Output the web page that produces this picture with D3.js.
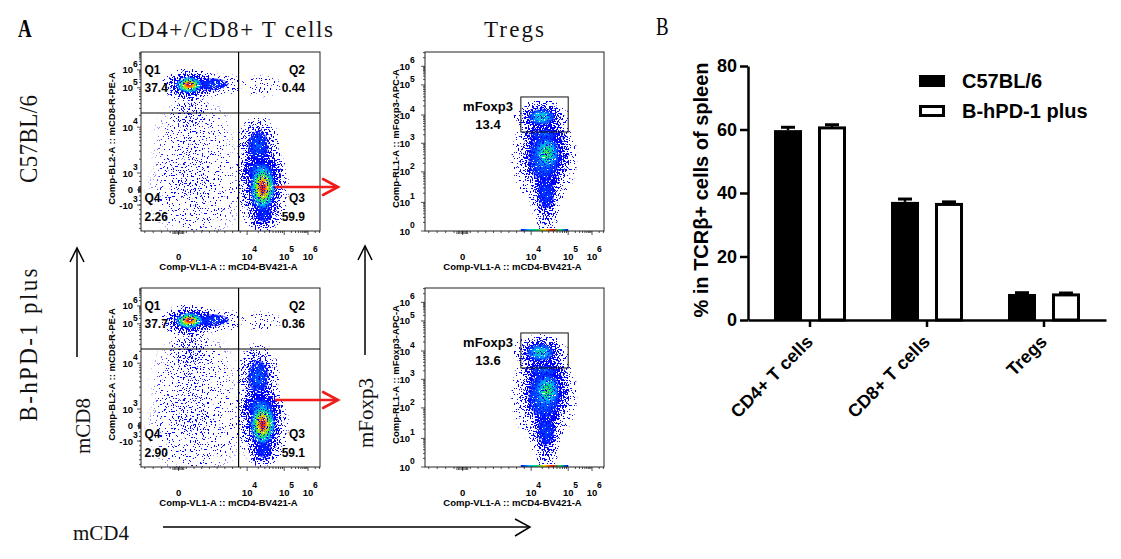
<!DOCTYPE html>
<html>
<head>
<meta charset="utf-8">
<script src="https://cdn.jsdelivr.net/npm/d3@7"></script>
<style>
  body { margin: 0; background: #fff; }
  svg { display: block; }
  .sans { font-family: 'Liberation Sans', Arial, sans-serif; font-weight: bold; }
  .serif { font-family: 'Liberation Serif', 'Times New Roman', serif; }
</style>
</head>
<body>
<div id="figure"></div>
<script>
// ---------- panel B: bar chart ----------
const categories = ['CD4+ T cells', 'CD8+ T cells', 'Tregs'];
const groups = ['C57BL/6', 'B-hPD-1 plus'];
const meanC57 = [59.8, 37.2, 8.2];
const meanHPD = [60.5, 36.4, 7.9];
const semC57 = [0.9, 0.9, 0.4];
const semHPD = [1.0, 0.8, 0.6];
const barTicks = [0, 20, 40, 60, 80];

// ---------- panel A: flow plots ----------
const strains = ['C57BL/6', 'B-hPD-1 plus'];
const quadNames = ['Q1', 'Q2', 'Q3', 'Q4'];
const quadPct = [['37.4', '0.44', '59.9', '2.26'], ['37.7', '0.36', '59.1', '2.90']];
const foxp3Pct = ['13.4', '13.6'];
const quadCut = [3.5, 4.36];             // mCD4 / mCD8 cut (axis units)
const foxp3Gate = [3.4, 5.0, 3.4, 4.6];  // x0, x1, y0, y1
const pileUp = [3.4, 5.0];               // events stacked on the Foxp3 axis floor

// tick labels [axis unit, base, exponent]
const cd4Ticks = [[0, '0', ''], [4, '10', '4'], [5, '10', '5'], [6, '10', '6']];
const cd8Ticks = [[-3, '-10', '3'], [0, '0', ''], [3, '10', '3'], [4, '10', '4'], [5, '10', '5'], [6, '10', '6']];
const foxp3Ticks = [[0, '10', '0'], [1, '10', '1'], [2, '10', '2'], [3, '10', '3'], [4, '10', '4'], [5, '10', '5'], [6, '10', '6']];

// populations [x, y, spreadX, spreadY, peak density, halo density]
const cdPopsC57 = [
  [0.6, 5.16, 0.8, 0.36, 1.0, 1.0],
  [2.0, 5.2, 0.95, 0.3, 0.12, 0.4],
  [0.65, 4.35, 0.55, 0.3, 0.0, 0.28],
  [0.9, 3.6, 1.3, 0.6, 0.0, 0.12],
  [1.0, -0.5, 1.5, 3.8, 0.0, 0.12],
  [0.8, 0.3, 0.6, 1.6, 0.0, 0.16],
  [4.4, 5.1, 0.3, 0.25, 0.0, 0.16],
  [4.42, 0.4, 0.36, 3.0, 1.0, 1.0],
  [4.36, 3.05, 0.36, 0.3, 0.3, 0.85],
  [4.3, 3.6, 0.3, 0.35, 0.2, 0.75],
  [4.45, -4.8, 0.22, 1.6, 0.1, 0.6]
];
const cdPopsHPD = [
  [0.62, 5.18, 0.85, 0.36, 1.0, 1.0],
  [2.0, 5.2, 1.0, 0.3, 0.12, 0.4],
  [0.65, 4.3, 0.6, 0.35, 0.0, 0.32],
  [0.9, 3.6, 1.35, 0.6, 0.0, 0.14],
  [1.0, -0.5, 1.5, 3.8, 0.0, 0.14],
  [0.8, 0.3, 0.6, 1.6, 0.0, 0.18],
  [4.4, 5.15, 0.3, 0.25, 0.0, 0.14],
  [4.42, 0.3, 0.36, 3.0, 1.0, 1.0],
  [4.36, 3.05, 0.36, 0.3, 0.3, 0.85],
  [4.3, 3.7, 0.3, 0.4, 0.22, 0.75],
  [4.45, -4.8, 0.22, 1.6, 0.1, 0.6]
];
const tregPopsC57 = [
  [4.28, 3.93, 0.42, 0.3, 0.48, 1.0],
  [4.35, 3.3, 0.38, 0.2, 0.25, 0.7],
  [4.42, 2.65, 0.36, 0.62, 0.62, 1.0],
  [4.35, 2.5, 0.5, 0.85, 0.3, 0.65],
  [4.4, 1.3, 0.24, 0.55, 0.15, 0.7],
  [4.42, 0.55, 0.16, 0.4, 0.0, 0.35]
];
const tregPopsHPD = [
  [4.25, 3.95, 0.44, 0.32, 0.5, 1.0],
  [4.35, 3.3, 0.38, 0.2, 0.27, 0.7],
  [4.43, 2.6, 0.36, 0.62, 0.62, 1.0],
  [4.35, 2.45, 0.5, 0.9, 0.3, 0.65],
  [4.4, 1.25, 0.24, 0.55, 0.15, 0.7],
  [4.42, 0.55, 0.16, 0.4, 0.0, 0.35]
];

// ---------- setup ----------
const svg = d3.select('#figure').append('svg')
    .attr('width', 1121)
    .attr('height', 559);
svg.append('rect').attr('width', 1121).attr('height', 559).attr('fill', '#fff');
const defs = svg.append('defs');

const jet = d3.scaleLinear()
    .domain([0, 0.18, 0.35, 0.55, 0.72, 0.86, 1])
    .range(['#0000ff', '#0050ff', '#00b4ff', '#00e678', '#b4f000', '#ffa000', '#ff1000']);

// speckle filters: turn smooth density into scattered dots.
// two noise fields of unrelated frequency are mixed so no lattice shows through
function noise(f, seed) {
    f.append('feTurbulence').attr('type', 'fractalNoise')
        .attr('baseFrequency', 0.57).attr('numOctaves', 1).attr('seed', seed).attr('result', 'na');
    f.append('feTurbulence').attr('type', 'fractalNoise')
        .attr('baseFrequency', '0.83 0.77').attr('numOctaves', 1).attr('seed', seed + 5).attr('result', 'nb');
    f.append('feComposite').attr('in', 'na').attr('in2', 'nb')
        .attr('operator', 'arithmetic').attr('k2', 0.5).attr('k3', 0.5).attr('result', 'n0');
    const ct = f.append('feComponentTransfer').attr('in', 'n0').attr('result', 'n1');
    ct.append('feFuncR').attr('type', 'linear').attr('slope', 4.4).attr('intercept', -1.7);
    f.append('feColorMatrix').attr('in', 'n1').attr('type', 'matrix')
        .attr('values', '0 0 0 0 0  0 0 0 0 0  0 0 0 0 1  1 0 0 0 0').attr('result', 'mask');
}
function plotFilter(id) {
    return defs.append('filter').attr('id', id)
        .attr('filterUnits', 'userSpaceOnUse').attr('x', -20).attr('y', -20)
        .attr('width', 230).attr('height', 230)
        .attr('color-interpolation-filters', 'sRGB');
}
// dot coverage grows with local density: on where noise > 1 - density
const fHalo = plotFilter('speckle');
noise(fHalo, 7);
fHalo.append('feComposite').attr('in', 'SourceGraphic').attr('in2', 'mask')
    .attr('operator', 'arithmetic').attr('k1', 0).attr('k2', 20).attr('k3', 20).attr('k4', -20);

const fCore = plotFilter('coreTex');
noise(fCore, 3);
const ctm = fCore.append('feComponentTransfer').attr('in', 'mask').attr('result', 'mask2');
ctm.append('feFuncA').attr('type', 'linear').attr('slope', 4).attr('intercept', -0.5);
fCore.append('feGaussianBlur').attr('in', 'SourceGraphic').attr('stdDeviation', 0.6).attr('result', 'soft');
fCore.append('feComposite').attr('in', 'soft').attr('in2', 'mask2').attr('operator', 'in');

const haloGrad = defs.append('radialGradient').attr('id', 'haloGrad');
[[0, 1], [0.5, 0.6], [1, 0]].forEach(([o, a]) =>
    haloGrad.append('stop').attr('offset', o).attr('stop-color', '#0000ff').attr('stop-opacity', a));

const pileGrad = defs.append('linearGradient').attr('id', 'pileGrad');
['#0000ff', '#00b4ff', '#00e678', '#ffd000', '#ff1000', '#00e678', '#0000ff'].forEach((c, i, a) =>
    pileGrad.append('stop').attr('offset', i / (a.length - 1)).attr('stop-color', c));

// ---------- flow plot ----------
const plotW = 179, plotH = 179;
const unitX = d3.scaleLinear().domain([-2, 0, 4, 5, 6, 6.5]).range([0, 0.21, 0.593, 0.80, 0.933, 1]);
const cdY = { domain: [-8, -3, 0, 3, 4, 5, 6, 7], range: [0, 0.145, 0.23, 0.324, 0.58, 0.80, 0.90, 1] };
const foxY = { domain: [0, 1, 2, 3, 4, 5, 6, 6.5], range: [0, 0.16, 0.33, 0.49, 0.648, 0.816, 0.92, 1] };

let plotCount = 0;
function flowPlot(left, top, opt) {
    const id = plotCount++;
    const g = svg.append('g').attr('transform', `translate(${left},${top})`);
    const x = d3.scaleLinear().domain(unitX.domain()).range(unitX.range().map(f => f * plotW));
    const y = d3.scaleLinear().domain(opt.yScale.domain).range(opt.yScale.range.map(f => (1 - f) * plotH));

    defs.append('clipPath').attr('id', 'clip' + id)
        .append('rect').attr('width', plotW).attr('height', plotH);
    const inner = g.append('g').attr('clip-path', `url(#clip${id})`);
    const halo = inner.append('g').attr('filter', 'url(#speckle)');
    const core = inner.append('g').attr('filter', 'url(#coreTex)');

    // densest populations are painted last so their colours stay on top
    const pops = opt.pops.slice().sort((a, b) => a[4] - b[4]);
    pops.forEach(([px, py, sx, sy, peak, dens], i) => {
        const cx = x(px), cy = y(py);
        const rx = (Math.abs(x(px + sx) - cx) + Math.abs(cx - x(px - sx))) / 2;
        const ry = (Math.abs(y(py + sy) - cy) + Math.abs(cy - y(py - sy))) / 2;
        halo.append('ellipse')
            .attr('cx', cx).attr('cy', cy).attr('rx', rx * 2).attr('ry', ry * 2)
            .attr('fill', 'url(#haloGrad)').attr('fill-opacity', dens);
        if (peak > 0) {
            const gid = `core${id}_${i}`;
            const grad = defs.append('radialGradient').attr('id', gid);
            d3.range(0, 1.001, 0.1).forEach(t => {
                const lvl = peak * Math.exp(-1.8 * t * t);
                grad.append('stop').attr('offset', t)
                    .attr('stop-color', jet(lvl))
                    .attr('stop-opacity', t <= 0.75 ? 1 : (1 - t) / 0.25);
            });
            core.append('ellipse')
                .attr('cx', cx).attr('cy', cy).attr('rx', rx).attr('ry', ry)
                .attr('fill', `url(#${gid})`);
        }
    });

    if (opt.pile) {
        inner.append('rect')
            .attr('x', x(opt.pile[0])).attr('y', plotH - 2)
            .attr('width', x(opt.pile[1]) - x(opt.pile[0])).attr('height', 2)
            .attr('fill', 'url(#pileGrad)');
    }

    // frame
    g.append('rect').attr('width', plotW).attr('height', plotH)
        .attr('fill', 'none').attr('stroke', '#222').attr('stroke-width', 1);

    // minor / major ticks
    const tick = (vals, len, axis) => vals.forEach(v => {
        if (axis === 'x') {
            const p = x(v);
            if (p < 0 || p > plotW) return;
            g.append('line').attr('x1', p).attr('x2', p).attr('y1', plotH).attr('y2', plotH + len)
                .attr('stroke', '#222').attr('stroke-width', 0.8);
        } else {
            const p = y(v);
            if (p < 0 || p > plotH) return;
            g.append('line').attr('y1', p).attr('y2', p).attr('x1', 0).attr('x2', -len)
                .attr('stroke', '#222').attr('stroke-width', 0.8);
        }
    });
    const logMinor = (d0, d1) => d3.range(d0, d1).flatMap(d => d3.range(2, 10).map(k => d + Math.log10(k)));
    tick(d3.range(-1.8, 3.9, 0.45), 2, 'x');
    tick(d3.range(-0.3, 0.31, 0.075), 3, 'x');
    tick(logMinor(4, 7).filter(v => v < 6.5), 2, 'x');
    tick(opt.xTicks.map(d => d[0]), 4, 'x');
    if (opt.yScale === cdY) {
        tick(d3.range(-7.5, 3, 0.9), 2, 'y');
        tick(d3.range(-0.5, 0.51, 0.12), 3, 'y');
        tick(logMinor(3, 7), 2, 'y');
    } else {
        tick(logMinor(0, 7).filter(v => v < 6.5), 2, 'y');
    }
    tick(opt.yTicks.map(d => d[0]), 4, 'y');

    // tick labels
    opt.xTicks.forEach(([v, base, ex]) => {
        g.append('text').attr('class', 'sans').attr('font-size', 9.5)
            .attr('x', x(v)).attr('y', plotH + 29).attr('text-anchor', 'middle').text(base);
        if (ex) g.append('text').attr('class', 'sans').attr('font-size', 8.5)
            .attr('x', x(v) + 5).attr('y', plotH + 21).text(ex);
    });
    opt.yTicks.forEach(([v, base, ex]) => {
        const lx = -opt.labelGap;
        g.append('text').attr('class', 'sans').attr('font-size', 9.5)
            .attr('x', lx).attr('y', y(v) + 3.5).attr('text-anchor', 'end').text(base);
        if (ex) g.append('text').attr('class', 'sans').attr('font-size', 8.5)
            .attr('x', lx).attr('y', y(v) - 3).text(ex);
    });

    // axis titles
    g.append('text').attr('class', 'sans').attr('font-size', 9.5)
        .attr('x', plotW / 2 - 2).attr('y', plotH + 39).attr('text-anchor', 'middle')
        .text('Comp-VL1-A :: mCD4-BV421-A');
    g.append('text').attr('class', 'sans').attr('font-size', 9.5)
        .attr('transform', `translate(-26,${plotH / 2 - 3}) rotate(-90)`)
        .attr('text-anchor', 'middle').text(opt.yTitle);

    return { g, x, y };
}

// ---------- panel A ----------
const plotLeft = [141, 425];
const plotTop = [52, 288];

strains.forEach((s, r) => {
    const cd = flowPlot(plotLeft[0], plotTop[r], {
        pops: r === 0 ? cdPopsC57 : cdPopsHPD,
        yScale: cdY, xTicks: cd4Ticks, yTicks: cd8Ticks, labelGap: 8,
        yTitle: 'Comp-BL2-A :: mCD8-R-PE-A'
    });
    const qx = cd.x(quadCut[0]), qy = cd.y(quadCut[1]);
    cd.g.append('line').attr('x1', qx).attr('x2', qx).attr('y1', 0).attr('y2', plotH)
        .attr('stroke', '#000').attr('stroke-width', 1.2);
    cd.g.append('line').attr('x1', 0).attr('x2', plotW).attr('y1', qy).attr('y2', qy)
        .attr('stroke', '#000').attr('stroke-width', 1.2);
    const qPos = [[3.5, 21.5, 'start'], [plotW - 15, 21.5, 'end'], [plotW - 15, 150, 'end'], [3.5, 150, 'start']];
    quadNames.forEach((q, i) => {
        const [tx, ty, anchor] = qPos[i];
        cd.g.append('text').attr('class', 'sans').attr('font-size', 12)
            .attr('x', tx).attr('y', ty).attr('text-anchor', anchor).text(q);
        cd.g.append('text').attr('class', 'sans').attr('font-size', 12)
            .attr('x', tx).attr('y', ty + 18.5).attr('text-anchor', anchor).text(quadPct[r][i]);
    });

    const tr = flowPlot(plotLeft[1], plotTop[r], {
        pops: r === 0 ? tregPopsC57 : tregPopsHPD,
        yScale: foxY, xTicks: cd4Ticks, yTicks: foxp3Ticks, labelGap: 15,
        yTitle: 'Comp-RL1-A :: mFoxp3-APC-A', pile: pileUp
    });
    const [gx0, gx1, gy0, gy1] = foxp3Gate;
    tr.g.append('rect')
        .attr('x', tr.x(gx0)).attr('y', tr.y(gy1))
        .attr('width', tr.x(gx1) - tr.x(gx0)).attr('height', tr.y(gy0) - tr.y(gy1))
        .attr('fill', 'none').attr('stroke', '#111').attr('stroke-width', 1);
    tr.g.append('text').attr('class', 'sans').attr('font-size', 13)
        .attr('x', 63).attr('y', 59).attr('text-anchor', 'middle').text('mFoxp3');
    tr.g.append('text').attr('class', 'sans').attr('font-size', 13)
        .attr('x', 63).attr('y', 76.5).attr('text-anchor', 'middle').text(foxp3Pct[r]);
});

// red arrows CD4+ -> Tregs
const redY = [187, 400];
redY.forEach(ry => {
    const arr = svg.append('g').attr('stroke', '#ee1c1c').attr('stroke-width', 2.6)
        .attr('fill', 'none').attr('stroke-linecap', 'round');
    arr.append('line').attr('x1', 276).attr('x2', 337).attr('y1', ry).attr('y2', ry);
    arr.append('polyline').attr('points', `323,${ry - 8} 338,${ry} 323,${ry + 8}`);
});

// black axis arrows
const blk = svg.append('g').attr('stroke', '#000').attr('stroke-width', 1.5).attr('fill', 'none');
blk.append('line').attr('x1', 77).attr('x2', 77).attr('y1', 248).attr('y2', 357);
blk.append('polyline').attr('points', '70,262 77,248 84,262');
blk.append('line').attr('x1', 365).attr('x2', 365).attr('y1', 246).attr('y2', 355);
blk.append('polyline').attr('points', '358,260 365,246 372,260');
blk.append('line').attr('x1', 163).attr('x2', 529).attr('y1', 527).attr('y2', 527);
blk.append('polyline').attr('points', '515,519 530,527 515,536');

// wide-set serif labels, stretched to the width they take in the figure
function wideText(x, y, text, rot, sy, len) {
    svg.append('text').attr('class', 'serif').attr('font-size', 23).attr('fill', '#111')
        .attr('transform', `translate(${x},${y}) rotate(${rot}) scale(1,${sy})`)
        .attr('text-anchor', 'middle')
        .attr('textLength', len).attr('lengthAdjust', 'spacing')
        .text(text);
}
wideText(227, 37, 'CD4+/CD8+ T cells', 0, 1.0, 212);
wideText(514, 37, 'Tregs', 0, 1.0, 60);
wideText(37, 139, strains[0], -90, 1.12, 88);
wideText(37, 345, strains[1], -90, 1.12, 153);

svg.append('text').attr('class', 'serif').attr('font-size', 21).attr('fill', '#111')
    .attr('transform', 'translate(90,426) rotate(-90)').attr('text-anchor', 'middle').text('mCD8');
svg.append('text').attr('class', 'serif').attr('font-size', 21).attr('fill', '#111')
    .attr('transform', 'translate(373,413) rotate(-90)').attr('text-anchor', 'middle').text('mFoxp3');
svg.append('text').attr('class', 'serif').attr('font-size', 21).attr('fill', '#111')
    .attr('x', 73).attr('y', 540).text('mCD4');

svg.append('text').attr('class', 'serif').attr('font-size', 21).attr('font-weight', 'bold')
    .attr('transform', 'translate(18,37) scale(0.9,1.2)').text('A');
svg.append('text').attr('class', 'serif').attr('font-size', 21)
    .attr('transform', 'translate(656,35) scale(0.9,1.2)').text('B');

// ---------- panel B ----------
const by = d3.scaleLinear().domain([0, 80]).range([320, 66]);
const bx = d3.scaleBand().domain(categories).range([748, 1106]).paddingOuter(0.03);
const bs = d3.scaleBand().domain(groups).range([-36, 36]).paddingInner(0.3636);
const bc = bx.bandwidth() / 2;

const barG = svg.append('g');
const series = [
    { key: groups[0], mean: meanC57, sem: semC57 },
    { key: groups[1], mean: meanHPD, sem: semHPD }
];
series.forEach((s, si) => {
    categories.forEach((c, ci) => {
        const x0 = bx(c) + bc + bs(s.key);
        const w = bs.bandwidth();
        const v = s.mean[ci], e = s.sem[ci];
        const cx = x0 + w / 2;
        barG.append('line').attr('x1', cx).attr('x2', cx).attr('y1', by(v)).attr('y2', by(v + e))
            .attr('stroke', '#000').attr('stroke-width', 2.5);
        barG.append('line').attr('x1', cx - 7).attr('x2', cx + 7).attr('y1', by(v + e)).attr('y2', by(v + e))
            .attr('stroke', '#000').attr('stroke-width', 3);
        if (si === 0) {
            barG.append('rect').attr('x', x0).attr('y', by(v))
                .attr('width', w).attr('height', by(0) - by(v)).attr('fill', '#000');
        } else {
            barG.append('rect').attr('x', x0 + 1.5).attr('y', by(v))
                .attr('width', w - 3).attr('height', by(0) - by(v))
                .attr('fill', '#fff').attr('stroke', '#000').attr('stroke-width', 3);
        }
    });
});

const yAxis = svg.append('g').attr('transform', 'translate(748,0)')
    .call(d3.axisLeft(by).tickValues(barTicks).tickSize(8).tickSizeOuter(0).tickPadding(3));
const xAxis = svg.append('g').attr('transform', 'translate(0,320)')
    .call(d3.axisBottom(bx).tickSize(7).tickSizeOuter(0).tickFormat(''));
[yAxis, xAxis].forEach(a => {
    a.select('.domain').attr('stroke', '#000').attr('stroke-width', 2.5);
    a.selectAll('.tick line').attr('stroke', '#000').attr('stroke-width', 2.5);
});
yAxis.selectAll('.tick text').attr('class', 'sans').attr('font-size', 18).attr('fill', '#000');

categories.forEach(c => {
    svg.append('text').attr('class', 'sans').attr('font-size', 18)
        .attr('transform', `translate(${bx(c) + bc + 4},343) rotate(-45)`)
        .attr('text-anchor', 'end').text(c);
});

svg.append('text').attr('class', 'sans').attr('font-size', 20)
    .attr('transform', 'translate(708,190) rotate(-90)').attr('text-anchor', 'middle')
    .text('% in TCRβ+ cells of spleen');

// legend
groups.forEach((gname, i) => {
    const ly = 75 + i * 30;
    svg.append('rect').attr('x', i ? 920.5 : 919).attr('y', i ? ly + 1.5 : ly)
        .attr('width', i ? 23 : 26).attr('height', i ? 9 : 12)
        .attr('fill', i ? '#fff' : '#000').attr('stroke', i ? '#000' : 'none').attr('stroke-width', 3);
    svg.append('text').attr('class', 'sans').attr('font-size', 20)
        .attr('x', 962).attr('y', ly + 12.5).text(gname);
});
</script>
</body>
</html>
